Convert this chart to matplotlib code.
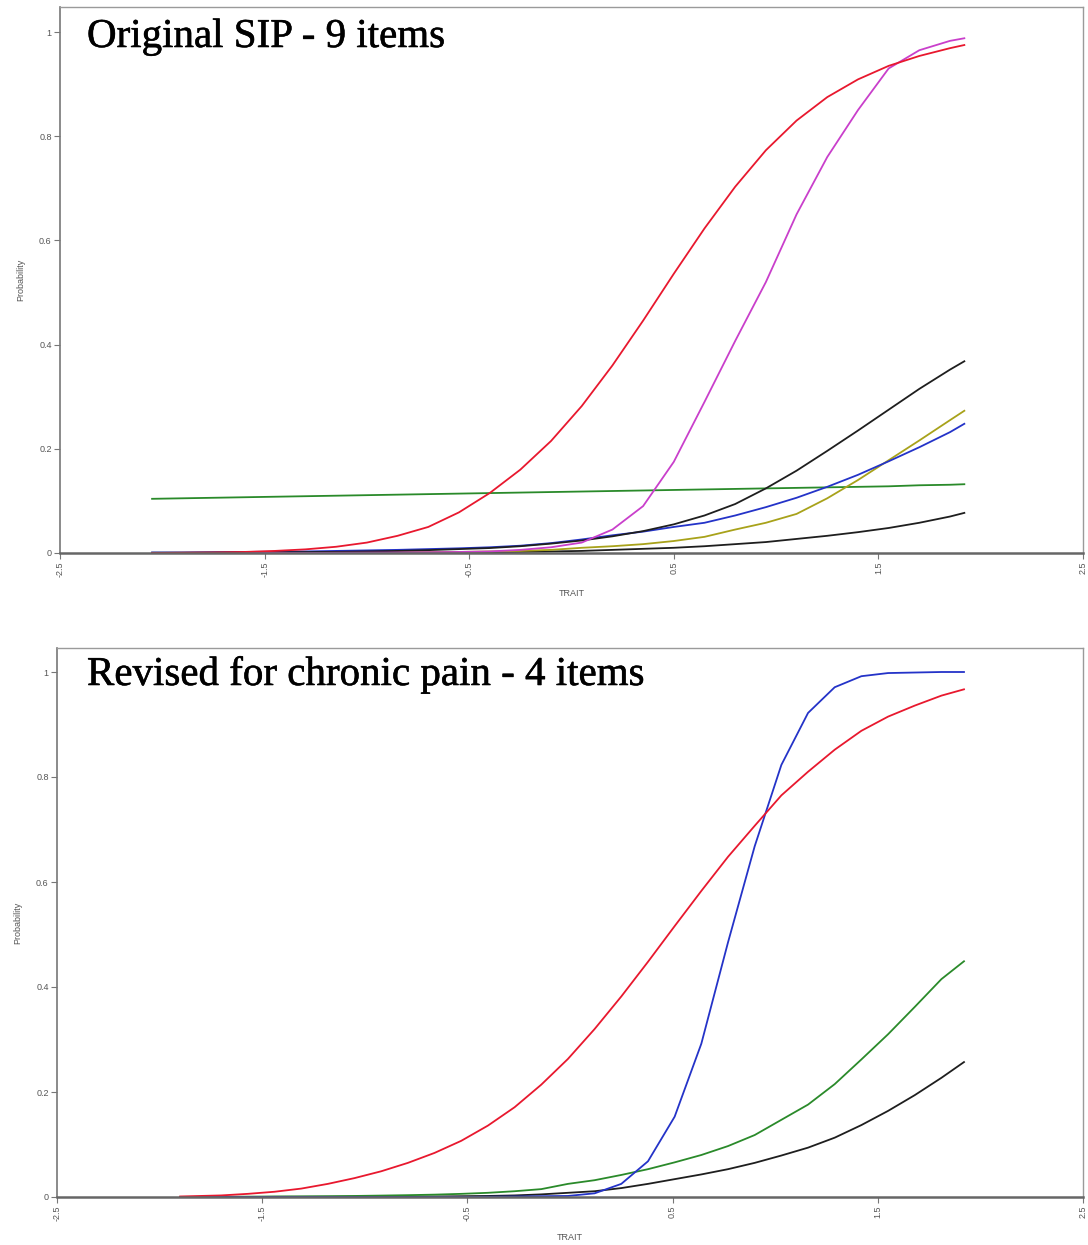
import matplotlib
matplotlib.use("Agg")
import matplotlib.pyplot as plt
import matplotlib.patheffects as pe

# ---------------- data ----------------
# top panel: Original SIP - 9 items
trait_top = [-2.05, -1.9, -1.75, -1.6, -1.45, -1.3, -1.15, -1.0, -0.85, -0.7, -0.55, -0.4,
             -0.25, -0.1, 0.05, 0.2, 0.35, 0.5, 0.65, 0.8, 0.95, 1.1, 1.25, 1.4, 1.55, 1.7, 1.85, 1.92]

top_red = [0.0, 0.0005, 0.001, 0.002, 0.004, 0.007, 0.012, 0.02, 0.033, 0.05, 0.078, 0.115,
           0.16, 0.215, 0.282, 0.36, 0.446, 0.536, 0.623, 0.703, 0.773, 0.83, 0.875, 0.909,
           0.935, 0.954, 0.969, 0.975]
top_magenta = [0.0, 0.0, 0.0, 0.0, 0.0, 0.0, 0.0005, 0.0007, 0.001, 0.0015, 0.002, 0.003,
               0.006, 0.011, 0.02, 0.045, 0.09, 0.175, 0.29, 0.407, 0.52, 0.65, 0.76, 0.85,
               0.93, 0.965, 0.983, 0.988]
top_black1 = [0.0005, 0.0006, 0.0008, 0.001, 0.0013, 0.0017, 0.0022, 0.003, 0.004, 0.0055, 0.0075, 0.0095,
              0.013, 0.018, 0.024, 0.032, 0.042, 0.055, 0.072, 0.094, 0.124, 0.158, 0.196, 0.235,
              0.275, 0.315, 0.352, 0.368]
top_olive = [0.0, 0.0, 0.0, 0.0, 0.0005, 0.0007, 0.001, 0.0012, 0.0015, 0.0018, 0.002, 0.003,
             0.004, 0.006, 0.01, 0.013, 0.017, 0.023, 0.031, 0.045, 0.058, 0.075, 0.105, 0.14,
             0.178, 0.216, 0.255, 0.273]
top_blue = [0.001, 0.001, 0.0015, 0.002, 0.0025, 0.003, 0.004, 0.005, 0.006, 0.0075, 0.009, 0.011,
            0.014, 0.019, 0.026, 0.034, 0.041, 0.05, 0.058, 0.072, 0.088, 0.106, 0.127, 0.15,
            0.176, 0.203, 0.232, 0.248]
top_green = [0.104, 0.105, 0.106, 0.107, 0.108, 0.109, 0.110, 0.111, 0.112, 0.113, 0.114, 0.115,
             0.116, 0.117, 0.118, 0.119, 0.120, 0.121, 0.122, 0.123, 0.124, 0.125, 0.126, 0.127,
             0.128, 0.130, 0.131, 0.132]
top_black2 = [0.0, 0.0, 0.0, 0.0, 0.0, 0.0, 0.0003, 0.0005, 0.0007, 0.0009, 0.001, 0.0015,
              0.002, 0.003, 0.004, 0.006, 0.008, 0.010, 0.013, 0.017, 0.021, 0.027, 0.033, 0.040,
              0.048, 0.058, 0.070, 0.077]

# bottom panel: Revised for chronic pain - 4 items
trait_bot = [-1.90, -1.70, -1.57, -1.44, -1.31, -1.18, -1.05, -0.92, -0.79, -0.66, -0.53, -0.40,
             -0.27, -0.14, -0.01, 0.12, 0.25, 0.38, 0.51, 0.64, 0.77, 0.90, 1.03, 1.16, 1.29,
             1.42, 1.55, 1.68, 1.81, 1.92]

bot_red = [0.001, 0.003, 0.006, 0.010, 0.016, 0.025, 0.036, 0.049, 0.065, 0.084, 0.107, 0.136,
           0.171, 0.214, 0.263, 0.320, 0.382, 0.448, 0.516, 0.583, 0.648, 0.707, 0.765, 0.81, 0.852,
           0.888, 0.915, 0.936, 0.955, 0.967]
bot_blue = [0.0, 0.0, 0.0, 0.0, 0.0, 0.0, 0.0, 0.0, 0.0, 0.0, 0.0, 0.0005,
            0.001, 0.0015, 0.002, 0.007, 0.025, 0.068, 0.153, 0.292, 0.485, 0.668, 0.823, 0.922, 0.971,
            0.992, 0.998, 0.999, 1.0, 1.0]
bot_green = [0.0, 0.0005, 0.0007, 0.001, 0.0012, 0.0015, 0.002, 0.0027, 0.0035, 0.0045, 0.006, 0.008,
             0.011, 0.015, 0.025, 0.032, 0.042, 0.053, 0.066, 0.08, 0.097, 0.118, 0.147, 0.176, 0.215,
             0.262, 0.31, 0.362, 0.415, 0.449]
bot_black = [0.0, 0.0, 0.0, 0.0003, 0.0004, 0.0005, 0.0006, 0.0007, 0.0008, 0.001, 0.0015, 0.002,
             0.003, 0.005, 0.008, 0.011, 0.017, 0.025, 0.034, 0.043, 0.053, 0.065, 0.079, 0.094, 0.113,
             0.137, 0.164, 0.194, 0.227, 0.257]

x_ticks = [-2.5, -1.5, -0.5, 0.5, 1.5, 2.5]
x_ticklabels = ["-2.5", "-1.5", "-0.5", "0.5", "1.5", "2.5"]
y_ticks = [0, 0.2, 0.4, 0.6, 0.8, 1.0]
y_ticklabels = ["0", "0.2", "0.4", "0.6", "0.8", "1"]

titles = ["Original SIP - 9 items", "Revised for chronic pain - 4 items"]

C_RED = "#e8182e"
C_MAG = "#c93fcb"
C_BLK = "#1e1e1e"
C_OLV = "#a8a21a"
C_BLU = "#2433c8"
C_GRN = "#2a8a2a"

# ---------------- figure ----------------
W, H = 1088, 1245
fig = plt.figure(figsize=(W / 100, H / 100), dpi=100)


def px_axes(left, right, top, bottom):
    return fig.add_axes([left / W, 1 - bottom / H, (right - left) / W, (bottom - top) / H])


ax1 = px_axes(60, 1083, 7, 553)
ax2 = px_axes(57, 1083, 648, 1197)

lw = 1.3
ax1.plot(trait_top, top_green, color=C_GRN, lw=lw)
ax1.plot(trait_top, top_black2, color=C_BLK, lw=lw)
ax1.plot(trait_top, top_olive, color=C_OLV, lw=lw)
ax1.plot(trait_top, top_blue, color=C_BLU, lw=lw)
ax1.plot(trait_top, top_black1, color=C_BLK, lw=lw)
ax1.plot(trait_top, top_magenta, color=C_MAG, lw=lw)
ax1.plot(trait_top, top_red, color=C_RED, lw=lw)

ax2.plot(trait_bot, bot_black, color=C_BLK, lw=lw)
ax2.plot(trait_bot, bot_green, color=C_GRN, lw=lw)
ax2.plot(trait_bot, bot_blue, color=C_BLU, lw=lw)
ax2.plot(trait_bot, bot_red, color=C_RED, lw=lw)

ylims = [(0, (553 - 7) / 521), (0, (1197 - 648) / 525)]
title_pos = [(27 / 1023, (553 - 47) / 521), (30 / 1026, (1197 - 685) / 525)]
for ax, yl, title, tp in zip([ax1, ax2], ylims, titles, title_pos):
    ax.set_xlim(-2.5, 2.5)
    ax.set_ylim(*yl)
    ax.set_xticks(x_ticks)
    ax.set_xticklabels(x_ticklabels, rotation=90, fontsize=6.5, color="#555555",
                       family="Liberation Sans")
    ax.set_yticks(y_ticks)
    ax.set_yticklabels(y_ticklabels, fontsize=6.5, color="#555555", family="Liberation Sans")
    ax.tick_params(direction="out", length=4, width=0.8, color="#777777", pad=2)
    for s in ["top", "right"]:
        ax.spines[s].set_color("#9a9a9a")
        ax.spines[s].set_linewidth(1.0)
    ax.spines["left"].set_color("#777777")
    ax.spines["left"].set_linewidth(1.2)
    ax.spines["bottom"].set_color("#666666")
    ax.spines["bottom"].set_linewidth(1.8)
    ax.set_xlabel("TRAIT", fontsize=6.5, color="#555555", family="Liberation Sans", labelpad=9)
    ax.set_ylabel("Probability", fontsize=6.5, color="#555555", family="Liberation Sans", labelpad=10)
    ax.text(tp[0], tp[1] / yl[1], title, transform=ax.transAxes, fontsize=29.5,
            family="Liberation Serif", color="black", va="baseline", ha="left",
            path_effects=[pe.withStroke(linewidth=0.4, foreground="black")])

fig.savefig("out.png", dpi=100)
